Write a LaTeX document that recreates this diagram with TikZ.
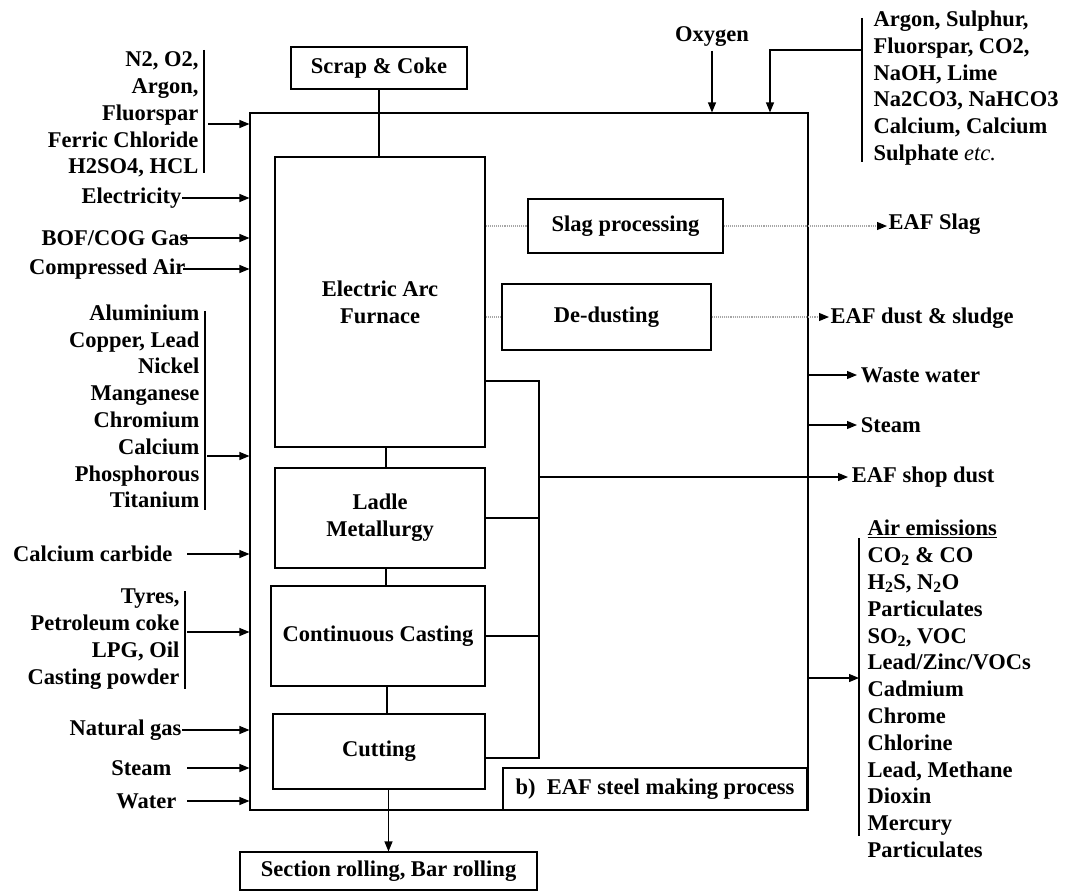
\documentclass[tikz,border=0pt]{standalone}
\usepackage{fontspec}
\setmainfont{Liberation Serif}
\usetikzlibrary{arrows.meta, positioning}

\begin{document}
\begin{tikzpicture}[x=1pt, y=-1pt, line width=1.1pt,
   every node/.style = {font=\fontsize{22.5}{26.8}\selectfont\bfseries},
   box/.style = {draw, align=center, inner sep=0pt},
   arr/.style = {-{Triangle[length=10pt, width=8pt]}},
   arrd/.style = {densely dotted, draw=gray!70, -{Triangle[length=10pt, width=8pt, black]}},
   dots/.style = {densely dotted, draw=gray!70},
   inl/.style = {anchor=east, inner xsep=0pt},
   lst/.style = {anchor=east, align=right, inner xsep=5pt},
   outl/.style = {anchor=west},
   outd/.style = {anchor=west, inner sep=1pt}]
   \useasboundingbox (0,0) rectangle (1065,892);

   % process blocks
   \node[box, minimum width=558, minimum height=697] (main) at (529,461.5) {};
   \node[box, minimum width=176, minimum height=42]  (scrap)  at (379,68)    {Scrap \& Coke};
   \node[box, minimum width=210, minimum height=290] (eaf)    at (380,302)   {Electric Arc\\Furnace};
   \node[box, minimum width=210, minimum height=100] (ladle)  at (380,518)   {Ladle\\Metallurgy};
   \node[box, minimum width=214, minimum height=100] (cast)   at (378,636)   {Continuous Casting};
   \node[box, minimum width=212, minimum height=75]  (cut)    at (379,751.5) {Cutting};
   \node[box, minimum width=195, minimum height=54]  (slag)   at (625.5,226) {Slag processing};
   \node[box, minimum width=209, minimum height=66]  (dedust) at (606.5,317) {De-dusting};
   \node[box, minimum width=304, minimum height=42]  (tag)    at (655,789)   {b)~~EAF steel making process};
   \node[box, minimum width=297, minimum height=38]  (roll)   at (388.5,871) {Section rolling, Bar rolling};

   \draw (scrap.south) -- (scrap.south |- eaf.north);
   \draw ([xshift=6]eaf.south) -- ([xshift=6]ladle.north);
   \draw ([xshift=6]ladle.south) -- ([xshift=6]ladle.south |- cast.north);
   \draw ([xshift=9]cast.south) -- ([xshift=9]cast.south |- cut.north);
   \draw[arr] (roll.north |- cut.south) -- (roll.north);
   \draw[dots] (slag.west -| eaf.east) -- (slag.west);
   \draw[dots] (dedust.west -| eaf.east) -- (dedust.west);

   % collector on the right of the blocks
   \coordinate (bt) at (539,381);
   \coordinate (bb) at (539,758);
   \draw (eaf.east |- bt) -- (bt) -- (bb) -- (cut.east |- bb);
   \draw (ladle.east) -- (ladle.east -| bt);
   \draw (cast.east) -- (cast.east -| bt);

   % inputs, left
   \node[lst] (l1) at (204,114.5) {N2, O2,\\Argon,\\Fluorspar\\Ferric Chloride\\H2SO4, HCL};
   \node[lst] (l2) at (205,406.5) {Aluminium\\Copper, Lead\\Nickel\\Manganese\\Chromium\\Calcium\\Phosphorous\\Titanium};
   \node[lst] (l3) at (185,639) {Tyres,\\Petroleum coke\\LPG, Oil\\Casting powder};
   \draw[shorten <=2pt, shorten >=8pt] (l1.north east) -- (l1.south east);
   \draw[shorten <=10pt, shorten >=2pt] (l2.north east) -- (l2.south east);
   \draw[shorten <=6pt, shorten >=4pt] (l3.north east) -- (l3.south east);
   \coordinate (a1) at (208,124);
   \coordinate (a2) at (207,456);
   \coordinate (a3) at (187,632);
   \foreach \a in {a1,a2,a3}
     \draw[arr] (\a) -- (\a -| main.west);

   \node[inl] (elec)  at (182,198) {Electricity};
   \node[inl] (bof)   at (189,238) {BOF/COG Gas};
   \node[inl] (cair)  at (186,269) {Compressed Air};
   \node[inl] (carb)  at (173,554) {Calcium carbide};
   \node[inl] (gas)   at (182,730) {Natural gas};
   \node[inl] (steam) at (172,768) {Steam};
   \node[inl] (water) at (177,801) {Water};
   \draw[arr] (elec.east) -- (elec.east -| main.west);
   \draw[arr] ([xshift=-6]bof.east) -- (bof.east -| main.west);
   \draw[arr] ([xshift=-3]cair.east) -- (cair.east -| main.west);
   \draw[arr] ([xshift=14]carb.east) -- (carb.east -| main.west);
   \draw[arr] (gas.east) -- (gas.east -| main.west);
   \draw[arr] ([xshift=15]steam.east) -- (steam.east -| main.west);
   \draw[arr] ([xshift=10]water.east) -- (water.east -| main.west);

   % inputs, top
   \node (oxy) at (712,37) {Oxygen};
   \draw[arr] (oxy.south) -- (oxy.south |- main.north);
   \node[anchor=west, align=left, inner xsep=11pt] (chem) at (862,88)
     {Argon, Sulphur,\\Fluorspar, CO2,\\NaOH, Lime\\Na2CO3, NaHCO3\\Calcium, Calcium\\Sulphate {\mdseries\itshape etc.}};
   \draw[shorten <=11pt, shorten >=7pt] (chem.north west) -- (chem.south west);
   \coordinate (chemin) at (862,50);
   \coordinate (chemdn) at (770,0);
   \draw[arr] (chemin) -| (chemdn |- main.north);

   % outputs, right
   \node[outd] (oslag)  at (887,224) {EAF Slag};
   \node[outd] (odust)  at (829,318) {EAF dust \& sludge};
   \node[outl] (owater) at (857,375) {Waste water};
   \node[outl] (osteam) at (857,425) {Steam};
   \node[outl] (oshop)  at (848,477) {EAF shop dust};
   \draw[arrd] (slag.east) -- (slag.east -| oslag.west);
   \draw[arrd] (dedust.east) -- (dedust.east -| odust.west);
   \draw[arr] (main.east |- owater.west) -- (owater.west);
   \draw[arr] (main.east |- osteam.west) -- (osteam.west);
   \draw[arr] (bt |- oshop.west) -- (oshop.west);

   \node[anchor=west, align=left, inner xsep=8pt] (air) at (859,689)
     {\underline{Air emissions}\\CO\textsubscript{2} \& CO\\H\textsubscript{2}S, N\textsubscript{2}O\\Particulates\\SO\textsubscript{2}, VOC\\Lead/Zinc/VOCs\\Cadmium\\Chrome\\Chlorine\\Lead, Methane\\Dioxin\\Mercury\\Particulates};
   \draw[shorten <=22pt, shorten >=26pt] (air.north west) -- (air.south west);
   \coordinate (airin) at (859,678);
   \draw[arr] (main.east |- airin) -- (airin);
\end{tikzpicture}
\end{document}
